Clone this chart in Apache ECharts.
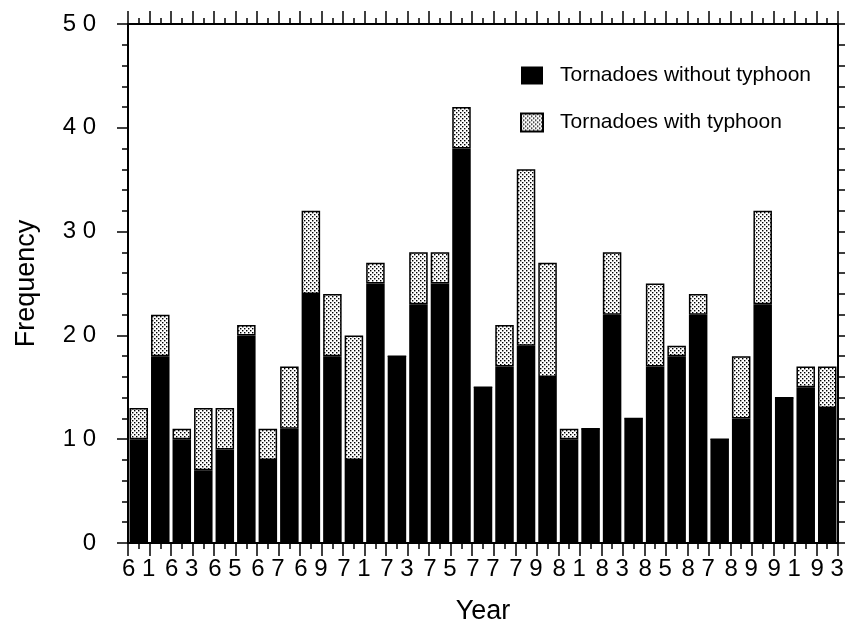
<!DOCTYPE html>
<html>
<head>
<meta charset="utf-8">
<script src="https://cdn.jsdelivr.net/npm/echarts@6/dist/echarts.min.js"></script>
<style>
    html,body{margin:0;padding:0;background:#fff;}
    #chart{width:845px;height:624px;}
</style>
</head>
<body>
<div id="chart"></div>
<script>
// years 1961-1993, labels show only the last two digits
const years = ['61','62','63','64','65','66','67','68','69','70','71',
    '72','73','74','75','76','77','78','79','80','81','82',
    '83','84','85','86','87','88','89','90','91','92','93'];
const withoutTyphoon = [10,18,10,7,9,20,8,11,24,18,8,
    25,18,23,25,38,15,17,19,16,10,11,
    22,12,17,18,22,10,12,23,14,15,13];
const withTyphoon = [3,4,1,6,4,1,3,6,8,6,12,
    2,0,5,3,4,0,4,17,11,1,0,
    6,0,8,1,2,0,6,9,0,2,4];
const yTicks = {min:0, max:50, step:10};

const font = '"Liberation Sans", Arial, Helvetica, sans-serif';
const spaced = v => String(v).split('').join(' ');

// stipple pattern for the typhoon part
const dots = document.createElement('canvas');
dots.width = 4;
dots.height = 4;
const ctx = dots.getContext('2d');
ctx.fillStyle = '#fff';
ctx.fillRect(0,0,4,4);
ctx.fillStyle = '#000';
ctx.fillRect(0,0,1.4,1.4);
ctx.fillRect(2,2,1.4,1.4);

const chart = echarts.init(document.getElementById('chart'));

const lineStyle = {color:'#000', width:2};
const catAxis = (position, len, centre, showLine) => ({
    type:'category',
    position:position,
    data:years,
    boundaryGap:true,
    axisLine:{show:showLine, lineStyle:lineStyle},
    axisTick:{show:true, inside:false, interval:0, alignWithLabel:centre, length:len, lineStyle:{color:'#000', width:1.5}},
    axisLabel:{show:false},
    splitLine:{show:false}
});

const bottomMain = catAxis('bottom', 13, false, true);
bottomMain.axisLabel = {
    show:true,
    interval:1,
    margin:14,
    color:'#000',
    fontSize:24,
    fontFamily:font,
    formatter:spaced
};
bottomMain.name = 'Year';
bottomMain.nameLocation = 'middle';
bottomMain.nameGap = 55;
bottomMain.nameTextStyle = {color:'#000', fontSize:27, fontFamily:font};

const valAxis = (position, showLabel) => ({
    type:'value',
    position:position,
    min:yTicks.min,
    max:yTicks.max,
    interval:yTicks.step,
    axisLine:{show:true, lineStyle:lineStyle},
    axisTick:{show:true, inside:false, length:showLabel ? 11 : 8, lineStyle:{color:'#000', width:1.5}},
    minorTick:{show:true, splitNumber:5, length:showLabel ? 6 : 8, lineStyle:{color:'#000', width:1.5}},
    splitLine:{show:false},
    minorSplitLine:{show:false},
    axisLabel:{show:showLabel, margin:32, color:'#000', fontSize:24, fontFamily:font, formatter:spaced}
});

const leftAxis = valAxis('left', true);
leftAxis.name = 'Frequency';
leftAxis.nameLocation = 'middle';
leftAxis.nameGap = 88;
leftAxis.nameMoveOverlap = false;
leftAxis.nameTextStyle = {color:'#000', fontSize:27, fontFamily:font};

chart.setOption({
    animation:false,
    backgroundColor:'#fff',
    grid:{
        left:128,
        right:7,
        top:24,
        bottom:81,
        containLabel:false,
        outerBoundsMode:'none'
    },
    legend:{
        orient:'vertical',
        left:515,
        top:60,
        itemWidth:22,
        itemHeight:18,
        itemGap:26,
        icon:'rect',
        textStyle:{color:'#000', fontSize:21, fontFamily:font, padding:[0,0,0,12]},
        data:['Tornadoes without typhoon','Tornadoes with typhoon']
    },
    xAxis:[
        bottomMain,
        catAxis('bottom', 6, true, false),
        catAxis('top', 13, false, true),
        catAxis('top', 6, true, false)
    ],
    yAxis:[leftAxis, valAxis('right', false)],
    series:[{
        name:'Tornadoes without typhoon',
        type:'bar',
        stack:'total',
        barCategoryGap:'14%',
        itemStyle:{color:'#000', borderColor:'#000', borderWidth:0},
        data:withoutTyphoon
    },{
        name:'Tornadoes with typhoon',
        type:'bar',
        stack:'total',
        barCategoryGap:'14%',
        itemStyle:{
            color:{image:dots, repeat:'repeat'},
            borderColor:'#000',
            borderWidth:1.5
        },
        data:withTyphoon
    }]
});
window.addEventListener("resize",function(){
    chart.resize();
});
</script>
</body>
</html>
